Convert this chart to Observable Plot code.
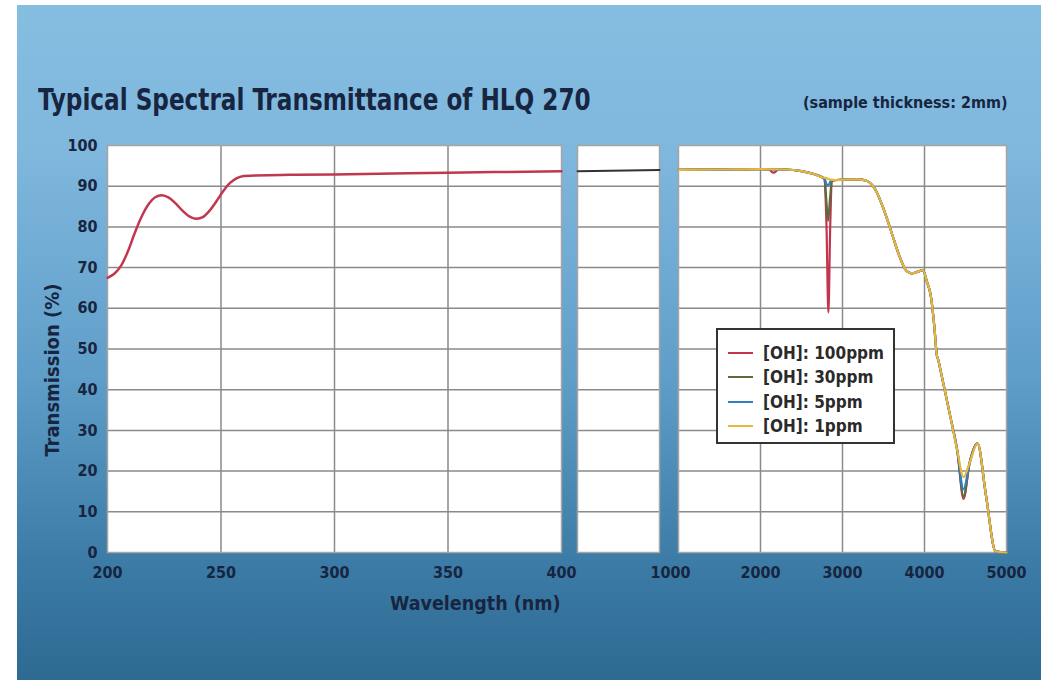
<!DOCTYPE html>
<html>
<head>
<meta charset="utf-8">
<script src="https://cdn.jsdelivr.net/npm/d3@7"></script>
<script src="https://cdn.jsdelivr.net/npm/@observablehq/plot@0.6"></script>
<style>
  html, body { margin: 0; padding: 0; background: #ffffff; }
  #wrap { position: relative; width: 1041px; height: 680px; overflow: hidden; }
  #bg { position: absolute; left: 17px; top: 5px; right: 0; bottom: 0;
        background: linear-gradient(to bottom, #86bee2 0%, #7fb7dd 22%, #5f9ec9 55%, #3c7ca7 82%, #2e6a92 100%); }
  .cond { font-family: "Liberation Sans Narrow", "DejaVu Sans Condensed", "Roboto Condensed", sans-serif; font-weight: bold; color: #172540; position: absolute; white-space: nowrap; }
  #title { left: 38px; top: 81px; font-size: 31px; line-height: 36px; transform: scaleX(0.83); transform-origin: 0 50%; }
  #sub { left: 803px; top: 93px; font-size: 16px; line-height: 20px; }
  #xlab { left: 390px; top: 592px; font-size: 19.5px; line-height: 24px; }
  #ylab { left: 52px; top: 370px; font-size: 20px; line-height: 24px; transform: translate(-50%, -50%) rotate(-90deg); }
  #legend { position: absolute; left: 716px; top: 328px; width: 175px; height: 112px; background: #fff; border: 2px solid #333; }
  .lrow { position: absolute; left: 10px; height: 24px; display: flex; align-items: center; }
  .lsw { width: 25px; height: 0; border-top: 2.5px solid; margin-right: 10px; }
  .ltx { font-family: "Liberation Sans Narrow", "DejaVu Sans Condensed", sans-serif; font-weight: bold; font-size: 17px; color: #2a2a2a; }
</style>
</head>
<body>
<div id="wrap">
  <div id="bg"></div>
  <div id="plots"></div>
  <div id="title" class="cond">Typical Spectral Transmittance of HLQ 270</div>
  <div id="sub" class="cond">(sample thickness: 2mm)</div>
  <div id="xlab" class="cond">Wavelength (nm)</div>
  <div id="ylab" class="cond">Transmission (%)</div>
  <div id="legend"></div>
</div>
<script>
// ---- tick labels ----
const yTicks = [0, 10, 20, 30, 40, 50, 60, 70, 80, 90, 100];
const leftTicks = [200, 250, 300, 350, 400];
const rightTicks = [2000, 3000, 4000, 5000];
const breakTick = [1000];

// ---- UV panel (200-400 nm) ----
const uvWl = [200, 203, 206, 209, 212, 215, 218, 221, 224, 227, 230, 233, 236, 239, 242, 245, 248, 251, 254, 257, 260, 265, 280, 300, 350, 400];
const uvT  = [67.5, 68.5, 70.5, 74, 78.5, 82.5, 85.5, 87.3, 87.8, 87.2, 85.8, 84.0, 82.6, 82.0, 82.4, 84.0, 86.3, 88.8, 90.8, 92.0, 92.5, 92.6, 92.8, 92.9, 93.3, 93.7];

// ---- visible panel (400-1000 nm) ----
const visWl = [400, 1000];
const visT  = [93.7, 94.0];

// ---- IR panel (1000-5000 nm): shared readings ----
const irWl = [1000, 1500, 2000, 2300, 2500, 2650, 2750, 2900, 3000, 3200, 3300, 3400, 3500, 3600, 3700, 3780, 3850, 3920, 3980, 4030, 4080, 4120, 4150, 4170, 4190, 4317, 4400, 4550, 4646, 4750, 4866, 5000];
const irT  = [94.0, 94.1, 94.2, 94.1, 93.7, 93.0, 92.2, 91.5, 91.6, 91.7, 91.3, 89.2, 84.5, 78.5, 72.5, 69.2, 68.6, 69.0, 69.4, 66.5, 62.7, 55.5, 48.5, 47.2, 45.3, 33.2, 25.0, 22.0, 26.8, 14.0, 0.3, 0.0];

// ---- per-series readings (OH absorption bands) ----
const seriesNames  = ["[OH]: 100ppm", "[OH]: 30ppm", "[OH]: 5ppm", "[OH]: 1ppm"];
const seriesColors = ["#c3354f", "#5d6b3c", "#2f80c2", "#e9b63c"];
const ohWl = [
  [2100, 2160, 2220, 2780, 2805, 2828, 2850, 2870, 4476],
  [2780, 2805, 2825, 2848, 2870, 4476],
  [2785, 2815, 2835, 2860, 4476],
  [2800, 2850, 4476]
];
const ohT = [
  [94.1, 93.3, 94.1, 91.8, 80.0, 59.0, 80.0, 91.2, 13.2],
  [91.8, 86.0, 81.5, 87.0, 91.2, 13.8],
  [91.6, 90.2, 90.4, 91.4, 15.5],
  [92.0, 91.6, 18.5]
];

// ---- build tables ----
const uv = uvWl.map((w, i) => ({wl: w, t: uvT[i]}));
const vis = visWl.map((w, i) => ({wl: w, t: visT[i]}));
const ir = [];
seriesNames.forEach((name, s) => {
  const pts = irWl.map((w, i) => ({wl: w, t: irT[i], name}))
    .concat(ohWl[s].map((w, i) => ({wl: w, t: ohT[s][i], name})));
  pts.sort((a, b) => a.wl - b.wl);
  ir.push(...pts);
});

const FONT = '"Liberation Sans Narrow", "DejaVu Sans Condensed", "Roboto Condensed", sans-serif';
const W = 1041, H = 620, MT = 145, MB = 68;
const gridStyle = {stroke: "#8a8a8a", strokeOpacity: 1, strokeWidth: 1.5};
const style = {background: "transparent", fontFamily: FONT, fontSize: "16px", fontWeight: "bold", color: "#172540", overflow: "visible"};
const fmt = d => String(d);
const axisText = {tickSize: 0, fontSize: 16, fontWeight: "bold", label: null, tickFormat: fmt};

const pA = Plot.plot({
  width: W, height: H, marginTop: MT, marginBottom: MB, marginLeft: 107, marginRight: W - 561,
  style,
  x: {domain: [200, 400], label: null},
  y: {domain: [0, 100], label: null},
  marks: [
    Plot.frame({fill: "white", stroke: "none"}),
    Plot.gridX(leftTicks.slice(1, -1), gridStyle),
    Plot.gridY(yTicks.slice(1, -1), gridStyle),
    Plot.frame({stroke: "#a5a5a5", strokeWidth: 1.5}),
    Plot.line(uv, {x: "wl", y: "t", stroke: "#c0384f", strokeWidth: 2.5, curve: "catmull-rom"}),
    Plot.axisY(yTicks, {...axisText, tickPadding: 10}),
    Plot.axisX(leftTicks, {...axisText, tickPadding: 14})
  ]
});

const pB = Plot.plot({
  width: W, height: H, marginTop: MT, marginBottom: MB, marginLeft: 577, marginRight: W - 659,
  style,
  x: {domain: [400, 1000], label: null, axis: null},
  y: {domain: [0, 100], label: null, axis: null},
  marks: [
    Plot.frame({fill: "white", stroke: "none"}),
    Plot.gridY(yTicks.slice(1, -1), gridStyle),
    Plot.frame({stroke: "#a5a5a5", strokeWidth: 1.5}),
    Plot.line(vis, {x: "wl", y: "t", stroke: "#333333", strokeWidth: 2})
  ]
});

const pC = Plot.plot({
  width: W, height: H, marginTop: MT, marginBottom: MB, marginLeft: 678, marginRight: W - 1006,
  style,
  x: {domain: [1000, 5000], label: null},
  y: {domain: [0, 100], label: null, axis: null},
  color: {domain: seriesNames, range: seriesColors},
  marks: [
    Plot.frame({fill: "white", stroke: "none"}),
    Plot.gridX(rightTicks.slice(0, -1), gridStyle),
    Plot.gridY(yTicks.slice(1, -1), gridStyle),
    Plot.frame({stroke: "#a5a5a5", strokeWidth: 1.5}),
    Plot.line(ir, {x: "wl", y: "t", z: "name", stroke: "name", strokeWidth: 2.2, curve: "monotone-x"}),
    Plot.axisX(rightTicks, {...axisText, tickPadding: 14}),
    Plot.axisX(breakTick, {...axisText, tickPadding: 14, dx: -8})
  ]
});

const holder = document.getElementById("plots");
[pA, pB, pC].forEach(p => { p.style.position = "absolute"; p.style.left = "0px"; p.style.top = "0px"; holder.appendChild(p); });

// legend (HTML)
const legend = document.getElementById("legend");
seriesNames.forEach((name, i) => {
  const row = document.createElement("div");
  row.className = "lrow";
  row.style.top = (11 + i * 24.3) + "px";
  const sw = document.createElement("div");
  sw.className = "lsw";
  sw.style.borderTopColor = seriesColors[i];
  const tx = document.createElement("span");
  tx.className = "ltx";
  tx.textContent = name;
  row.appendChild(sw); row.appendChild(tx);
  legend.appendChild(row);
});
</script>
</body>
</html>
